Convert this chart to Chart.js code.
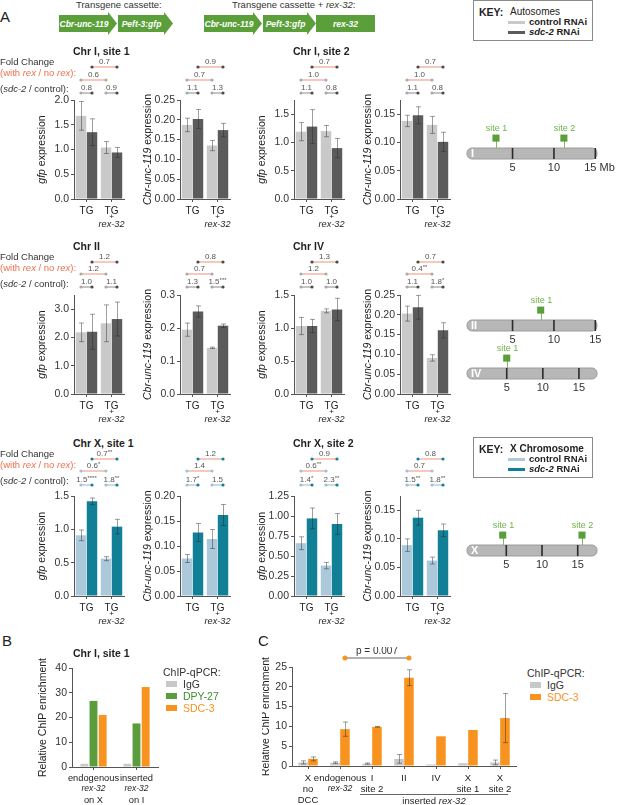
<!DOCTYPE html>
<html>
<head>
<meta charset="utf-8">
<script src="https://cdn.jsdelivr.net/npm/chart.js@4.4.1/dist/chart.umd.min.js"></script>
<style>
  body { margin: 0; background: #fff; }
  #fig { position: relative; width: 617px; height: 805px; overflow: hidden; font-family: 'Liberation Sans', Arial, sans-serif; color: #222; }
  .t { position: absolute; transform: translateY(-50%); white-space: nowrap; line-height: 1; }
  canvas { position: absolute; }
  .arrow { position: absolute; background: #5a9f3a; color: #fff; font: italic bold 8.5px 'Liberation Sans', Arial, sans-serif; display: flex; align-items: center; justify-content: center; }
  .key { position: absolute; border: 1px solid #8a8a8a; box-sizing: border-box; }
  .sw { position: absolute; }
</style>
</head>
<body>
<div id="fig"></div>
<script>
const FONT = "'Liberation Sans', Arial, sans-serif";
const fig = document.getElementById('fig');

// ---- Panel A data: [TG, TG + rex-32] ----
const exprGroups = [['TG'], ['TG', '+', '_rex-32_']];

const i1GfpCtrl = [1.68, 1.04], i1GfpCtrlErr = [0.29, 0.12];
const i1GfpSdc = [1.35, 0.94], i1GfpSdcErr = [0.27, 0.10];
const i1GfpFold = ['0.7', '0.6', '0.8', '0.9'];

const i1UncCtrl = [0.187, 0.135], i1UncCtrlErr = [0.017, 0.013];
const i1UncSdc = [0.202, 0.174], i1UncSdcErr = [0.024, 0.017];
const i1UncFold = ['0.9', '0.7', '1.1', '1.3'];

const i2GfpCtrl = [1.19, 1.20], i2GfpCtrlErr = [0.16, 0.10];
const i2GfpSdc = [1.28, 0.90], i2GfpSdcErr = [0.30, 0.17];
const i2GfpFold = ['0.7', '1.0', '1.1', '0.8'];

const i2UncCtrl = [0.138, 0.131], i2UncCtrlErr = [0.010, 0.015];
const i2UncSdc = [0.148, 0.101], i2UncSdcErr = [0.015, 0.017];
const i2UncFold = ['0.7', '1.0', '1.1', '0.8'];

const iiGfpCtrl = [2.18, 2.50], iiGfpCtrlErr = [0.33, 0.65];
const iiGfpSdc = [2.20, 2.65], iiGfpSdcErr = [0.62, 0.60];
const iiGfpFold = ['1.2', '1.2', '1.0', '1.1'];

const iiUncCtrl = [0.195, 0.140], iiUncCtrlErr = [0.020, 0.002];
const iiUncSdc = [0.250, 0.207], iiUncSdcErr = [0.017, 0.005];
const iiUncFold = ['0.8', '0.7', '1.3', '1.5***'];

const ivGfpCtrl = [1.03, 1.26], ivGfpCtrlErr = [0.13, 0.03];
const ivGfpSdc = [1.03, 1.28], ivGfpSdcErr = [0.10, 0.17];
const ivGfpFold = ['1.3', '1.2', '1.0', '1.0'];

const ivUncCtrl = [0.203, 0.091], ivUncCtrlErr = [0.019, 0.008];
const ivUncSdc = [0.219, 0.161], ivUncSdcErr = [0.030, 0.019];
const ivUncFold = ['0.7', '0.4**', '1.1', '1.8*'];

const x1GfpCtrl = [0.91, 0.56], x1GfpCtrlErr = [0.08, 0.03];
const x1GfpSdc = [1.42, 1.04], x1GfpSdcErr = [0.05, 0.11];
const x1GfpFold = ['0.7**', '0.6*', '1.5****', '1.8**'];

const x1UncCtrl = [0.075, 0.114], x1UncCtrlErr = [0.008, 0.019];
const x1UncSdc = [0.127, 0.162], x1UncSdcErr = [0.018, 0.021];
const x1UncFold = ['1.2', '1.4', '1.7*', '1.5'];

const x2GfpCtrl = [0.66, 0.38], x2GfpCtrlErr = [0.08, 0.04];
const x2GfpSdc = [0.97, 0.90], x2GfpSdcErr = [0.13, 0.13];
const x2GfpFold = ['0.9', '0.6**', '1.4*', '2.3**'];

const x2UncCtrl = [0.089, 0.062], x2UncCtrlErr = [0.011, 0.006];
const x2UncSdc = [0.137, 0.115], x2UncSdcErr = [0.013, 0.011];
const x2UncFold = ['0.8', '0.7', '1.5**', '1.8**'];

// ---- chromosome maps (Mb) ----
const chrTicks = [5, 10, 15];
const chrISites = [3.0, 11.2], chrIISites = [8.4], chrIVSites = [5.0], chrXSites = [4.5, 15.6];

// ---- Panel B ----
const bCats = [['endogenous', '_rex-32_', 'on X'], ['inserted', '_rex-32_', 'on I']];
const bIgG = [1.3, 1.3];
const bDpy27 = [26.7, 17.6];
const bSdc3 = [21.0, 32.3];

// ---- Panel C ----
const cCats = [['X', 'no', 'DCC'], ['endogenous', '_rex-32_'], ['I', 'site 2'], ['II'], ['IV'], ['X', 'site 1'], ['X', 'site 2']];
const cIgG = [0.9, 0.85, 0.6, 1.8, 0.4, 0.7, 0.9];
const cIgGErr = [0.4, 0.2, 0.15, 1.1, 0, 0, 0.6];
const cSdc3 = [1.8, 9.3, 9.9, 22.3, 7.5, 9.1, 12.1];
const cSdc3Err = [0.5, 1.8, 0.1, 2.0, 0, 0, 6.2];

// ---- colours ----
const autoPal = { light: '#c9c9c9', dark: '#5b5b5b', lightDot: '#aaaaaa', darkDot: '#4a4a4a', ratio: '#8c8c8c' };
const xPal = { light: '#abc9db', dark: '#117f96', lightDot: '#9dc2d6', darkDot: '#117f96', ratio: '#9fb5c2' };
const SALMON = '#f3917a';
const GREEN = '#5a9f3a';
const ORANGE = '#f7931e';
const IGG = '#c8c8c8';

// ---- helpers ----
function addText(html, x, y, css = '') {
    const el = document.createElement('div');
    el.className = 't';
    el.style.cssText = `left:${x}px;top:${y}px;${css}`;
    el.innerHTML = html;
    fig.appendChild(el);
    return el;
}

function addCanvas(left, top, w, h) {
    const cv = document.createElement('canvas');
    cv.width = w; cv.height = h;
    cv.style.left = left + 'px'; cv.style.top = top + 'px';
    cv.style.width = w + 'px'; cv.style.height = h + 'px';
    fig.appendChild(cv);
    return cv;
}

// text with _italic_ parts, centred on (cx, cy)
function rich(ctx, text, cx, cy, size, color, bold = false) {
    const parts = text.split('_');
    const fontOf = i => `${i % 2 ? 'italic ' : ''}${bold ? 'bold ' : ''}${size}px ${FONT}`;
    let w = 0;
    parts.forEach((p, i) => { ctx.font = fontOf(i); w += ctx.measureText(p).width; });
    let x = cx - w / 2;
    ctx.fillStyle = color;
    ctx.textAlign = 'left';
    ctx.textBaseline = 'middle';
    parts.forEach((p, i) => { ctx.font = fontOf(i); ctx.fillText(p, x, cy); x += ctx.measureText(p).width; });
}

const errorBars = {
    id: 'errorBars',
    afterDatasetsDraw(chart) {
        const { ctx } = chart;
        const ys = chart.scales.y;
        chart.data.datasets.forEach((ds, di) => {
            if (!ds.errors) return;
            chart.getDatasetMeta(di).data.forEach((bar, i) => {
                const e = ds.errors[i];
                if (!e) return;
                const v = ds.data[i];
                const x = Math.round(bar.x) + 0.5;
                const y0 = ys.getPixelForValue(v + e), y1 = ys.getPixelForValue(Math.max(0, v - e));
                ctx.save();
                ctx.strokeStyle = 'rgba(40,40,40,0.45)';
                ctx.lineWidth = 1;
                ctx.beginPath();
                ctx.moveTo(x, y0); ctx.lineTo(x, y1);
                ctx.moveTo(x - 2.5, y0); ctx.lineTo(x + 2.5, y0);
                ctx.moveTo(x - 2.5, y1); ctx.lineTo(x + 2.5, y1);
                ctx.stroke();
                ctx.restore();
            });
        });
    }
};

function axisText(o) {
    return {
        id: 'axisText',
        afterDraw(chart) {
            const { ctx, chartArea: a } = chart;
            const xs = chart.scales.x;
            ctx.save();
            ctx.translate(a.left - o.yOff, (a.top + a.bottom) / 2);
            ctx.rotate(-Math.PI / 2);
            rich(ctx, o.yTitle, 0, 0, o.ySize, '#222');
            ctx.restore();
            o.xLabels.forEach((lines, i) => {
                const x = xs.getPixelForValue(i);
                lines.forEach((t, j) => {
                    const size = t === '+' ? 8 : (t.includes('_') ? o.xSize - 0.8 : o.xSize);
                    rich(ctx, t, x, a.bottom + o.lineY[j], size, '#222');
                });
            });
        }
    };
}

function bracket(ctx, x0, x1, y, label, lineColor, dot0, dot1, r = 1.6, size = 8) {
    ctx.save();
    ctx.strokeStyle = lineColor;
    ctx.lineWidth = 1;
    ctx.beginPath(); ctx.moveTo(x0, y); ctx.lineTo(x1, y); ctx.stroke();
    [[x0, dot0], [x1, dot1]].forEach(([x, c]) => {
        ctx.fillStyle = c;
        ctx.beginPath(); ctx.arc(x, y, r, 0, Math.PI * 2); ctx.fill();
    });
    const m = /^([^*]+)(\**)$/.exec(label);
    ctx.font = `${size}px ${FONT}`;
    const wn = ctx.measureText(m[1]).width;
    ctx.font = `${size - 2}px ${FONT}`;
    const ws = m[2] ? ctx.measureText(m[2]).width : 0;
    const x = (x0 + x1) / 2 - (wn + ws) / 2;
    ctx.fillStyle = '#555';
    ctx.textAlign = 'left';
    ctx.textBaseline = 'middle';
    ctx.font = `${size}px ${FONT}`;
    ctx.fillText(m[1], x, y - 5);
    if (m[2]) { ctx.font = `${size - 2}px ${FONT}`; ctx.fillText(m[2], x + wn, y - 7); }
    ctx.restore();
}

function foldMarks(fold, pal, offs) {
    return {
        id: 'foldMarks',
        afterDraw(chart) {
            const { ctx } = chart;
            const top = chart.chartArea.top;
            const c = chart.getDatasetMeta(0).data, d = chart.getDatasetMeta(1).data;
            bracket(ctx, d[0].x, d[1].x, top + offs[0], fold[0], SALMON, pal.darkDot, pal.darkDot);
            bracket(ctx, c[0].x, c[1].x, top + offs[1], fold[1], SALMON, pal.lightDot, pal.lightDot);
            bracket(ctx, c[0].x, d[0].x, top + offs[2], fold[2], pal.ratio, pal.lightDot, pal.darkDot);
            bracket(ctx, c[1].x, d[1].x, top + offs[2], fold[3], pal.ratio, pal.lightDot, pal.darkDot);
        }
    };
}

const axisGrid = { drawOnChartArea: false, drawTicks: true, tickLength: 3, color: '#555' };
const axisBorder = { color: '#555', width: 1 };

// ---- Panel A layout ----
const colAxisX = [74, 180, 294, 400];
const rowPlotTop = [100, 295, 496];
const rowPlotBottom = [199, 394, 596];
const rowFoldOffs = [[-33, -20, -7], [-33, -21, -8], [-37, -25, -11]];
const PLOT_W = 50, Y_W = 48, PAD_T = 46, X_H = 32, PAD_R = 14;

function exprChart(row, col, yTitle, max, step, dec, ctrl, ctrlErr, sdc, sdcErr, fold) {
    const ax = colAxisX[col], top = rowPlotTop[row], bottom = rowPlotBottom[row];
    const pal = row === 2 ? xPal : autoPal;
    const cv = addCanvas(ax - Y_W, top - PAD_T, Y_W + PLOT_W + PAD_R, PAD_T + bottom - top + X_H);
    new Chart(cv, {
        type: 'bar',
        data: {
            labels: ['TG', 'TG + rex-32'],
            datasets: [
                { data: ctrl, errors: ctrlErr, backgroundColor: pal.light },
                { data: sdc, errors: sdcErr, backgroundColor: pal.dark }
            ]
        },
        options: {
            responsive: false,
            animation: false,
            layout: { padding: { top: PAD_T, right: PAD_R, left: 0, bottom: 0 } },
            datasets: { bar: { categoryPercentage: 0.88, barPercentage: 0.95 } },
            plugins: { legend: { display: false }, tooltip: { enabled: false } },
            scales: {
                x: {
                    grid: { ...axisGrid, offset: false },
                    border: axisBorder,
                    ticks: { display: false },
                    afterFit: sc => { sc.height = X_H; }
                },
                y: {
                    min: 0, max,
                    grid: axisGrid,
                    border: axisBorder,
                    ticks: {
                        stepSize: step, includeBounds: false, padding: 2, color: '#333',
                        font: { family: FONT, size: 10.5 },
                        callback: v => v.toFixed(dec)
                    },
                    afterFit: sc => { sc.width = Y_W; }
                }
            }
        },
        plugins: [errorBars, axisText({ yTitle, yOff: 32, ySize: 10.5, xLabels: exprGroups, lineY: [12, 17.5, 25], xSize: 10 }), foldMarks(fold, pal, rowFoldOffs[row])]
    });
}

const GFP = '_gfp_ expression', UNC = '_Cbr-unc-119_ expression';
exprChart(0, 0, GFP, 2.0, 0.5, 1, i1GfpCtrl, i1GfpCtrlErr, i1GfpSdc, i1GfpSdcErr, i1GfpFold);
exprChart(0, 1, UNC, 0.25, 0.05, 2, i1UncCtrl, i1UncCtrlErr, i1UncSdc, i1UncSdcErr, i1UncFold);
exprChart(0, 2, GFP, 1.75, 0.5, 1, i2GfpCtrl, i2GfpCtrlErr, i2GfpSdc, i2GfpSdcErr, i2GfpFold);
exprChart(0, 3, UNC, 0.175, 0.05, 2, i2UncCtrl, i2UncCtrlErr, i2UncSdc, i2UncSdcErr, i2UncFold);
exprChart(1, 0, GFP, 3.5, 1.0, 1, iiGfpCtrl, iiGfpCtrlErr, iiGfpSdc, iiGfpSdcErr, iiGfpFold);
exprChart(1, 1, UNC, 0.3, 0.1, 1, iiUncCtrl, iiUncCtrlErr, iiUncSdc, iiUncSdcErr, iiUncFold);
exprChart(1, 2, GFP, 1.5, 0.5, 1, ivGfpCtrl, ivGfpCtrlErr, ivGfpSdc, ivGfpSdcErr, ivGfpFold);
exprChart(1, 3, UNC, 0.25, 0.05, 2, ivUncCtrl, ivUncCtrlErr, ivUncSdc, ivUncSdcErr, ivUncFold);
exprChart(2, 0, GFP, 1.5, 0.5, 1, x1GfpCtrl, x1GfpCtrlErr, x1GfpSdc, x1GfpSdcErr, x1GfpFold);
exprChart(2, 1, UNC, 0.2, 0.05, 2, x1UncCtrl, x1UncCtrlErr, x1UncSdc, x1UncSdcErr, x1UncFold);
exprChart(2, 2, GFP, 1.25, 0.25, 2, x2GfpCtrl, x2GfpCtrlErr, x2GfpSdc, x2GfpSdcErr, x2GfpFold);
exprChart(2, 3, UNC, 0.175, 0.05, 2, x2UncCtrl, x2UncCtrlErr, x2UncSdc, x2UncSdcErr, x2UncFold);

// chart titles and fold-change row labels
[['Chr I, site 1', 73, 51], ['Chr I, site 2', 293, 51], ['Chr II', 73, 246], ['Chr IV', 293, 246],
 ['Chr X, site 1', 73, 443], ['Chr X, site 2', 293, 443]].forEach(([t, x, y]) => addText(t, x, y, 'font-weight:bold;font-size:10.5px;'));

[51, 246, 443].forEach(y0 => {
    addText('Fold Change', 0, y0 + 11, 'font-size:9.5px;color:#333;');
    addText('(with <i>rex</i> / no <i>rex</i>):', 0, y0 + 22, `font-size:9.5px;color:#f0704f;`);
    addText('(<i>sdc-2</i> / control):', 0, y0 + 38, 'font-size:9.5px;color:#333;');
});

// ---- chromosome maps ----
function chrMap(name, len, sites, tickLabels, barTop) {
    const padT = 12, padB = 20, areaH = 33;
    const cv = addCanvas(455, barTop - 22 - padT, 162, padT + areaH + padB);
    new Chart(cv, {
        type: 'scatter',
        data: { datasets: [{ data: sites.map(s => ({ x: s, y: 1.9 })), pointStyle: 'rect', pointRadius: 5, backgroundColor: GREEN, borderWidth: 0, clip: false }] },
        options: {
            responsive: false,
            animation: false,
            layout: { padding: { left: 12, right: 20, top: padT, bottom: padB } },
            plugins: { legend: { display: false }, tooltip: { enabled: false } },
            scales: {
                x: { type: 'linear', min: -0.5, max: len, display: false },
                y: { min: 0, max: 3, display: false }
            }
        },
        plugins: [{
            id: 'chromosome',
            beforeDatasetsDraw(chart) {
                const { ctx } = chart;
                const xs = chart.scales.x, ys = chart.scales.y;
                const x0 = xs.getPixelForValue(-0.5), x1 = xs.getPixelForValue(len);
                const yT = ys.getPixelForValue(1), yB = ys.getPixelForValue(0);
                ctx.save();
                ctx.fillStyle = '#b7b7b7';
                ctx.strokeStyle = '#9c9c9c';
                ctx.beginPath();
                ctx.roundRect(x0, yT, x1 - x0, yB - yT, 5);
                ctx.fill(); ctx.stroke();
                ctx.strokeStyle = '#2a2a2a';
                ctx.lineWidth = 1.6;
                chrTicks.forEach((v, i) => {
                    const x = xs.getPixelForValue(v);
                    ctx.beginPath(); ctx.moveTo(x, yT); ctx.lineTo(x, yB); ctx.stroke();
                    const [num, unit] = tickLabels[i].split(' ');
                    ctx.font = `11px ${FONT}`;
                    ctx.fillStyle = '#333';
                    ctx.textBaseline = 'middle';
                    const w = ctx.measureText(num).width;
                    ctx.textAlign = 'left';
                    ctx.fillText(num + (unit ? ' ' + unit : ''), x - w / 2 - (unit ? 5 : 0), yB + 9);
                });
                ctx.fillStyle = '#fff';
                ctx.font = `bold 11px ${FONT}`;
                ctx.textAlign = 'left';
                ctx.fillText(name, x0 + 4, (yT + yB) / 2 + 0.5);
                ctx.strokeStyle = '#7cb864';
                ctx.lineWidth = 1;
                sites.forEach((s, i) => {
                    const x = Math.round(xs.getPixelForValue(s)) + 0.5;
                    ctx.beginPath(); ctx.moveTo(x, ys.getPixelForValue(1.9)); ctx.lineTo(x, yT); ctx.stroke();
                    ctx.fillStyle = '#6db24c';
                    ctx.font = `9px ${FONT}`;
                    ctx.textAlign = 'center';
                    ctx.fillText('site ' + (i + 1), x, ys.getPixelForValue(2.75));
                });
                ctx.restore();
            }
        }]
    });
}

chrMap('I', 15.2, chrISites, ['5', '10', '15 Mb'], 148);
chrMap('II', 15.2, chrIISites, ['5', '10', '15'], 320);
chrMap('IV', 17.5, chrIVSites, ['5', '10', '15'], 368);
chrMap('X', 17.7, chrXSites, ['5', '10', '15'], 545);

// ---- Panel B ----
(() => {
    const ax = 72, top = 668, bottom = 767, yw = 45, padT = 20, xh = 38, w = 86;
    const cv = addCanvas(ax - yw, top - padT, yw + w + 10, padT + bottom - top + xh);
    new Chart(cv, {
        type: 'bar',
        data: {
            labels: ['endogenous', 'inserted'],
            datasets: [
                { data: bIgG, backgroundColor: IGG },
                { data: bDpy27, backgroundColor: '#5b9c3c' },
                { data: bSdc3, backgroundColor: ORANGE }
            ]
        },
        options: {
            responsive: false,
            animation: false,
            layout: { padding: { top: padT, right: 10, left: 0, bottom: 0 } },
            datasets: { bar: { categoryPercentage: 0.64, barPercentage: 0.86 } },
            plugins: { legend: { display: false }, tooltip: { enabled: false } },
            scales: {
                x: { grid: { ...axisGrid, offset: false }, border: axisBorder, ticks: { display: false }, afterFit: sc => { sc.height = xh; } },
                y: {
                    min: 0, max: 40, grid: axisGrid, border: axisBorder,
                    ticks: { stepSize: 10, padding: 2, color: '#333', font: { family: FONT, size: 10.5 } },
                    afterFit: sc => { sc.width = yw; }
                }
            }
        },
        plugins: [axisText({ yTitle: 'Relative ChIP enrichment', yOff: 29, ySize: 10.5, xLabels: bCats, lineY: [11, 22, 33], xSize: 9.3 })]
    });
})();

// ---- Panel C ----
(() => {
    const ax = 292, top = 667, bottom = 766, yw = 30, padT = 20, xh = 39, w = 224;
    const cv = addCanvas(ax - yw, top - padT, yw + w + 8, padT + bottom - top + xh);
    new Chart(cv, {
        type: 'bar',
        data: {
            labels: cCats.map(c => c.join(' ')),
            datasets: [
                { data: cIgG, errors: cIgGErr, backgroundColor: IGG },
                { data: cSdc3, errors: cSdc3Err, backgroundColor: ORANGE }
            ]
        },
        options: {
            responsive: false,
            animation: false,
            layout: { padding: { top: padT, right: 8, left: 0, bottom: 0 } },
            datasets: { bar: { categoryPercentage: 0.62, barPercentage: 0.96 } },
            plugins: { legend: { display: false }, tooltip: { enabled: false } },
            scales: {
                x: { grid: { ...axisGrid, offset: false }, border: axisBorder, ticks: { display: false }, afterFit: sc => { sc.height = xh; } },
                y: {
                    min: 0, max: 25, grid: axisGrid, border: axisBorder,
                    ticks: { stepSize: 5, padding: 2, color: '#333', font: { family: FONT, size: 10.5 } },
                    afterFit: sc => { sc.width = yw; }
                }
            }
        },
        plugins: [errorBars,
            axisText({ yTitle: 'Relative ChIP enrichment', yOff: 26, ySize: 10.5, xLabels: cCats, lineY: [12, 23, 34], xSize: 9.5 }),
            {
                id: 'cExtras',
                afterDraw(chart) {
                    const { ctx, chartArea: a } = chart;
                    const s = chart.getDatasetMeta(1).data;
                    const xs = chart.scales.x;
                    ctx.save();
                    ctx.strokeStyle = '#666';
                    ctx.lineWidth = 1;
                    ctx.beginPath(); ctx.moveTo(s[1].x, a.top - 9); ctx.lineTo(s[3].x, a.top - 9); ctx.stroke();
                    ctx.fillStyle = ORANGE;
                    [s[1].x, s[3].x].forEach(x => { ctx.beginPath(); ctx.arc(x, a.top - 9, 2.5, 0, Math.PI * 2); ctx.fill(); });
                    rich(ctx, 'p = 0.007', (s[1].x + s[3].x) / 2, a.top - 16, 10, '#333');
                    const l0 = xs.getPixelForValue(2) - 12, l1 = xs.getPixelForValue(6) + 8;
                    ctx.strokeStyle = '#666';
                    ctx.beginPath(); ctx.moveTo(l0, a.bottom + 28.5); ctx.lineTo(l1, a.bottom + 28.5); ctx.stroke();
                    rich(ctx, 'inserted _rex-32_', (l0 + l1) / 2, a.bottom + 35, 9.5, '#222');
                    ctx.restore();
                }
            }]
    });
})();

// ---- panel letters, cassette arrows, keys, legends ----
addText('A', 0, 16, 'font-size:15px;');
addText('B', 2, 640, 'font-size:15px;');
addText('C', 258, 640, 'font-size:15px;');
addText('Chr I, site 1', 73, 653, 'font-weight:bold;font-size:10.5px;');

function arrow(label, x, w, head = true) {
    const el = document.createElement('div');
    el.className = 'arrow';
    const h = 23;
    el.style.cssText = `left:${x}px;top:12px;width:${w}px;height:${h}px;` +
        (head ? `clip-path:polygon(0 3px, ${w - 9}px 3px, ${w - 9}px 0, ${w}px 11.5px, ${w - 9}px ${h}px, ${w - 9}px ${h - 3}px, 0 ${h - 3}px);padding-right:8px;box-sizing:border-box;`
              : `clip-path:polygon(0 3px, ${w}px 3px, ${w}px ${h - 3}px, 0 ${h - 3}px);`);
    el.textContent = label;
    fig.appendChild(el);
}
addText('Transgene cassette:', 76, 5, 'font-size:9.5px;color:#333;');
addText('Transgene cassette + <i>rex-32</i>:', 232, 5, 'font-size:9.5px;color:#333;');
arrow('Cbr-unc-119', 59, 58);
arrow('Peft-3:gfp', 118, 55);
arrow('Cbr-unc-119', 204, 58);
arrow('Peft-3:gfp', 263, 53);
arrow('rex-32', 316, 59, false);

function keyBox(top, title, light, dark) {
    const k = document.createElement('div');
    k.className = 'key';
    k.style.cssText = `left:473px;top:${top}px;width:120px;height:41px;`;
    fig.appendChild(k);
    addText('KEY:', 479, top + 12, 'font-weight:bold;font-size:10.5px;');
    addText(title, 510, top + 12, 'font-size:10px;' + (title === 'X Chromosome' ? 'font-weight:bold;' : ''));
    [[light, 'control RNAi', 22], [dark, '<i>sdc-2</i> RNAi', 32]].forEach(([c, t, dy]) => {
        const sw = document.createElement('div');
        sw.className = 'sw';
        sw.style.cssText = `left:508px;top:${top + dy - 1.5}px;width:17px;height:3px;background:${c};`;
        fig.appendChild(sw);
        addText(t, 529, top + dy, 'font-weight:bold;font-size:9.5px;');
    });
}
keyBox(0, 'Autosomes', autoPal.light, autoPal.dark);
keyBox(437, 'X Chromosome', xPal.light, xPal.dark);

function legend(x, y, items) {
    addText('ChIP-qPCR:', x, y, 'font-size:10.5px;color:#333;');
    items.forEach(([label, c, tc], i) => {
        const sw = document.createElement('div');
        sw.className = 'sw';
        sw.style.cssText = `left:${x + 3}px;top:${y + 12 * (i + 1) - 3}px;width:11px;height:6px;background:${c};`;
        fig.appendChild(sw);
        addText(label, x + 20, y + 12 * (i + 1), `font-size:10.5px;color:${tc};`);
    });
}
legend(163, 672, [['IgG', IGG, '#333'], ['DPY-27', '#5b9c3c', '#3f8f2f'], ['SDC-3', ORANGE, ORANGE]]);
legend(527, 673, [['IgG', IGG, '#333'], ['SDC-3', ORANGE, ORANGE]]);
</script>
</body>
</html>
